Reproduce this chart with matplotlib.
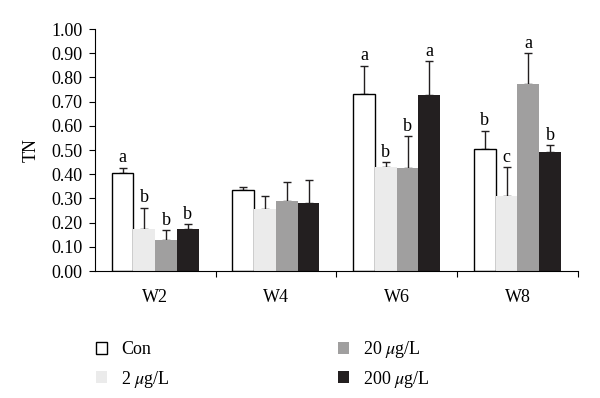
import numpy as np
import matplotlib
matplotlib.use("Agg")
import matplotlib.pyplot as plt

plt.rcParams['font.family'] = ['Liberation Serif', 'DejaVu Serif']
plt.rcParams['mathtext.fontset'] = 'stix'

weeks = ["W2", "W4", "W6", "W8"]
groups = ["Con", "2 $\\mu$g/L", "20 $\\mu$g/L", "200 $\\mu$g/L"]
colors = ["white", "#ebebeb", "#a09f9f", "#231f20"]

# mean values per group (rows) and week (columns)
means = [
    [0.404, 0.334, 0.730, 0.504],
    [0.172, 0.258, 0.430, 0.310],
    [0.130, 0.290, 0.425, 0.772],
    [0.172, 0.283, 0.726, 0.490],
]
# upper error (SD)
errs = [
    [0.023, 0.013, 0.118, 0.076],
    [0.090, 0.052, 0.020, 0.120],
    [0.039, 0.080, 0.131, 0.128],
    [0.022, 0.092, 0.140, 0.030],
]
letters = [
    ["a", "", "a", "b"],
    ["b", "", "b", "c"],
    ["b", "", "b", "a"],
    ["b", "", "a", "b"],
]

fs = 13
fig = plt.figure(figsize=(6, 3.98), dpi=100)
ax = fig.add_axes([0.158, 0.319, 0.805, 0.608])

x = np.arange(1, len(weeks) + 1)
w = 0.18
bars = []
for i in range(4):
    xi = x + (i - 1.5) * w
    ec = "black" if i == 0 else colors[i]
    lw = 1.0 if i == 0 else 0
    b = ax.bar(xi, means[i], width=w, color=colors[i], edgecolor=ec, linewidth=lw,
               label=groups[i], zorder=2)
    bars.append(b)
    ax.errorbar(xi, means[i], yerr=[np.zeros(4), errs[i]], fmt="none",
                ecolor="#231f20", elinewidth=1.0, capsize=3, capthick=1.0, zorder=1)
    for j in range(4):
        if letters[i][j]:
            ax.text(xi[j], means[i][j] + errs[i][j] + 0.006, letters[i][j],
                    ha="center", va="bottom", fontsize=fs)

ax.set_xlim(0.5, 4.5)
ax.set_ylim(0, 1.0)
ax.set_yticks(np.arange(0, 1.01, 0.1))
ax.set_yticklabels(["%.2f" % v for v in np.arange(0, 1.01, 0.1)], fontsize=fs)
ax.set_xticks([1.5, 2.5, 3.5, 4.5])
ax.set_xticklabels([])
ax.set_xticks(x, minor=True)
ax.set_xticklabels(weeks, minor=True, fontsize=fs)
ax.tick_params(axis="x", which="minor", length=0, pad=13)
ax.tick_params(axis="x", which="major", length=4, direction="out")
ax.tick_params(axis="y", length=4, direction="out", pad=5)
ax.spines["top"].set_visible(False)
ax.spines["right"].set_visible(False)
ax.set_ylabel("TN", fontsize=fs, labelpad=8)

# one legend per entry so the rows line up across the two columns
spots = [(96, 350), (96, 379), (338, 350), (338, 379)]
for i in range(4):
    px, py = spots[i]
    leg = fig.legend([bars[i]], [groups[i]], loc="center left",
                     bbox_to_anchor=(px / 600, 1 - py / 398), frameon=False,
                     fontsize=fs, handlelength=0.6, handleheight=0.6,
                     handletextpad=0.8, borderpad=0, borderaxespad=0)

fig.savefig("out.png", dpi=100)
